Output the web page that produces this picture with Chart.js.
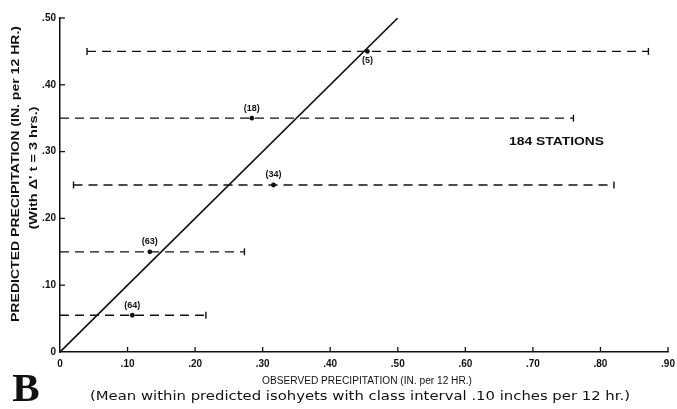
<!DOCTYPE html>
<html><head><meta charset="utf-8">
<script src="https://cdn.jsdelivr.net/npm/chart.js@4/dist/chart.umd.min.js"></script>
<style>html,body{margin:0;padding:0;background:#fff;}#wrap{width:677px;height:409px;position:relative;}</style>
</head><body><div id="wrap"><canvas id="c" width="677" height="409"></canvas></div>
<script>
// ---- data ----
const stationCounts = ['(5)', '(18)', '(34)', '(63)', '(64)'];
const predicted     = [0.45, 0.35, 0.25, 0.15, 0.055];
const observedMean  = [0.455, 0.284, 0.316, 0.133, 0.107];
const rangeLow      = [0.04, 0.0, 0.02, 0.0, 0.0];
const rangeHigh     = [0.871, 0.76, 0.82, 0.273, 0.216];
const perfectX      = [0, 0.5];
const perfectY      = [0, 0.5];
const xTicks        = [0, 0.1, 0.2, 0.3, 0.4, 0.5, 0.6, 0.7, 0.8, 0.9];
const yTicks        = [0, 0.1, 0.2, 0.3, 0.4, 0.5];
const annotation    = {text: '184 STATIONS', x: 0.735, y: 0.314};

const INK = '#111';
function fmt(v){ return v === 0 ? '0' : '.' + Math.round(v*100).toString().padStart(2,'0'); }

const datasets = [];
predicted.forEach((p, i) => {
  datasets.push({
    type: 'line', data: [{x: rangeLow[i], y: p}, {x: rangeHigh[i], y: p}],
    borderColor: INK, borderWidth: 1.3, borderDash: [9, 6],
    pointStyle: 'line', rotation: 90,
    pointRadius: [rangeLow[i] > 0 ? 3.5 : 0, 3.5],
    pointBorderWidth: 1.4, pointBorderColor: INK, pointBackgroundColor: INK
  });
});
datasets.push({
  type: 'line', data: perfectX.map((x, i) => ({x, y: perfectY[i]})),
  borderColor: INK, borderWidth: 1.6, pointRadius: 0
});
datasets.push({
  type: 'scatter', data: observedMean.map((x, i) => ({x, y: predicted[i]})),
  pointStyle: 'circle', pointRadius: 2.4, backgroundColor: INK, borderColor: INK, borderWidth: 0
});

function fitText(ctx, text, x, y, width, font, rot) {
  ctx.save();
  ctx.font = font;
  const w = ctx.measureText(text).width;
  const s = width ? width / w : 1;
  ctx.translate(x, y);
  if (rot) ctx.rotate(rot);
  ctx.scale(s, 1);
  ctx.textAlign = 'center'; ctx.textBaseline = 'middle';
  ctx.fillStyle = INK;
  ctx.fillText(text, 0, 0);
  ctx.restore();
}

const deco = {
  id: 'deco',
  afterDraw(chart) {
    const ctx = chart.ctx, xs = chart.scales.x, ys = chart.scales.y;
    ctx.save();
    ctx.strokeStyle = INK; ctx.lineWidth = 1.3;
    xTicks.forEach(v => { if (v === 0) return; const px = xs.getPixelForValue(v);
      ctx.beginPath(); ctx.moveTo(px, ys.bottom); ctx.lineTo(px, ys.bottom - 5); ctx.stroke(); });
    yTicks.forEach(v => { if (v === 0) return; const py = ys.getPixelForValue(v);
      ctx.beginPath(); ctx.moveTo(xs.left, py); ctx.lineTo(xs.left + 5, py); ctx.stroke(); });
    ctx.restore();
    stationCounts.forEach((t, i) => {
      const px = xs.getPixelForValue(observedMean[i]);
      const py = ys.getPixelForValue(predicted[i]);
      const dy = i === 0 ? 9 : -10;
      fitText(ctx, t, px, py + dy, null, 'bold 9px "Liberation Sans", Arial, sans-serif');
    });
    fitText(ctx, annotation.text, xs.getPixelForValue(annotation.x), ys.getPixelForValue(annotation.y), 95,
      'bold 10px "Liberation Sans", Arial, sans-serif');
    fitText(ctx, 'PREDICTED PRECIPITATION (IN. per 12 HR.)', 16, 174, 296, 'bold 11px "Liberation Sans", Arial, sans-serif', -Math.PI/2);
    fitText(ctx, "(With \u0394' t = 3 hrs.)", 34, 168, 123, 'bold 11px "Liberation Sans", Arial, sans-serif', -Math.PI/2);
    fitText(ctx, 'OBSERVED PRECIPITATION (IN. per 12 HR.)', 367, 381, 210, '10px "Liberation Sans", Arial, sans-serif');
    fitText(ctx, '(Mean within predicted isohyets with class interval .10 inches per 12 hr.)', 360, 397, 540, '12px "DejaVu Sans", sans-serif');
    fitText(ctx, 'B', 26, 390, null, 'bold 41px "Liberation Serif", serif');
  }
};

new Chart(document.getElementById('c'), {
  data: { datasets },
  options: {
    responsive: false, animation: false, events: [],
    layout: { padding: { left: 0, top: 18, right: 0, bottom: 0 } },
    plugins: { legend: { display: false }, tooltip: { enabled: false } },
    scales: {
      x: {
        type: 'linear', min: 0, max: 0.9,
        afterBuildTicks: s => { s.ticks = xTicks.map(v => ({value: v})); },
        afterFit: s => { s.height = 57; s.paddingRight = 9; s.paddingLeft = 0; },
        grid: { display: false, drawTicks: false, tickLength: 0 },
        border: { display: true, color: INK, width: 1.5 },
        ticks: { callback: v => fmt(v), color: INK, padding: 6, maxRotation: 0,
          font: { family: '"Liberation Sans", Arial, sans-serif', size: 10, weight: 'bold' } }
      },
      y: {
        type: 'linear', min: 0, max: 0.5,
        afterBuildTicks: s => { s.ticks = yTicks.map(v => ({value: v})); },
        afterFit: s => { s.width = 60; },
        grid: { display: false, drawTicks: false, tickLength: 0 },
        border: { display: true, color: INK, width: 1.5 },
        ticks: { callback: v => fmt(v), color: INK, padding: 4,
          font: { family: '"Liberation Sans", Arial, sans-serif', size: 10, weight: 'bold' } }
      }
    }
  },
  plugins: [deco]
});
</script></body></html>
